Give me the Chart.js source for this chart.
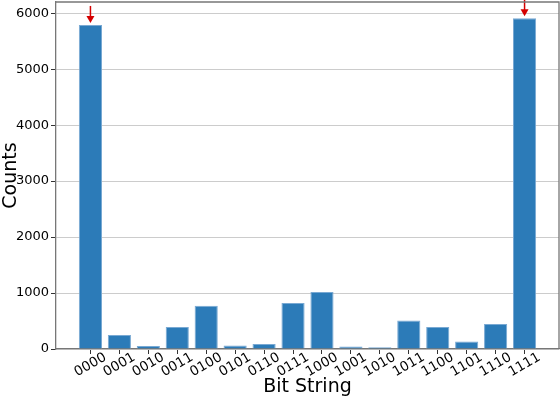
<!DOCTYPE html>
<html>
<head>
<meta charset="utf-8">
<script src="https://cdn.jsdelivr.net/npm/chart.js@4"></script>
<style>
  html, body { margin: 0; padding: 0; background: #fff; }
  #wrap { width: 560px; height: 400px; }
</style>
</head>
<body>
<div id="wrap"><canvas id="c"></canvas></div>
<script>
const bitStrings = ["0000","0001","0010","0011","0100","0101","0110","0111",
                    "1000","1001","1010","1011","1100","1101","1110","1111"];
const counts = [5790, 250, 55, 395, 775, 62, 88, 820,
                1020, 45, 30, 510, 395, 134, 448, 5910];
const yTicks = [0, 1000, 2000, 3000, 4000, 5000, 6000];
const markedBars = ["0000", "1111"];

const FONT = "'DejaVu Sans', sans-serif";

/* labels rotated 30deg, centred on the tick like matplotlib */
const tickLabels = {
  id: "tickLabels",
  afterDraw(chart) {
    const ctx = chart.ctx;
    const xs = chart.scales.x;
    ctx.save();
    ctx.font = "13.5px " + FONT;
    ctx.fillStyle = "#000";
    ctx.textAlign = "center";
    ctx.textBaseline = "middle";
    bitStrings.forEach((lab, i) => {
      const x = xs.getPixelForValue(i);
      ctx.save();
      ctx.translate(x, xs.top + 16);
      ctx.rotate(-Math.PI / 6);
      ctx.fillText(lab, 0, 0);
      ctx.restore();
    });
    ctx.restore();
  }
};

/* red arrows above the marked bars */
const arrows = {
  id: "arrows",
  afterDatasetsDraw(chart) {
    const ctx = chart.ctx;
    const xs = chart.scales.x, ys = chart.scales.y;
    ctx.save();
    ctx.strokeStyle = "#d40000";
    ctx.fillStyle = "#d40000";
    ctx.lineWidth = 1.5;
    markedBars.forEach(b => {
      const i = bitStrings.indexOf(b);
      const x = xs.getPixelForValue(i);
      const yTop = ys.getPixelForValue(counts[i]) - 2;
      ctx.beginPath();
      ctx.moveTo(x, yTop - 17);
      ctx.lineTo(x, yTop - 5);
      ctx.stroke();
      ctx.beginPath();
      ctx.moveTo(x - 4, yTop - 7);
      ctx.lineTo(x + 4, yTop - 7);
      ctx.lineTo(x, yTop);
      ctx.closePath();
      ctx.fill();
    });
    ctx.restore();
  }
};

new Chart(document.getElementById("c"), {
  type: "bar",
  data: {
    datasets: [{
      data: counts.map((v, i) => ({ x: i, y: v })),
      backgroundColor: "#2c7bb8",
      borderColor: "#79a9d3",
      borderWidth: 1,
      barPercentage: 0.8,
      categoryPercentage: 1.0
    }]
  },
  options: {
    responsive: true,
    maintainAspectRatio: false,
    animation: false,
    layout: { padding: { top: 2, right: 1, left: 0, bottom: 0 } },
    plugins: {
      legend: { display: false },
      tooltip: { enabled: false }
    },
    scales: {
      x: {
        type: "linear",
        offset: false,
        min: -1.19,
        max: 16.19,
        afterBuildTicks: s => { s.ticks = bitStrings.map((_, i) => ({ value: i })); },
        afterFit: s => { s.height = 51; s.paddingLeft = 0; s.paddingRight = 0; },
        ticks: { display: false },
        grid: {
          offset: false,
          drawOnChartArea: false,
          drawTicks: true,
          tickLength: 5,
          color: "#333"
        },
        border: { color: "#777", width: 1.3 },
        title: {
          display: true,
          text: "Bit String",
          font: { family: FONT, size: 19 },
          color: "#000",
          padding: { top: 0, bottom: 2 }
        }
      },
      y: {
        min: 0,
        max: 6200,
        afterBuildTicks: s => { s.ticks = yTicks.map(v => ({ value: v })); },
        afterFit: s => { s.width = 56; s.paddingTop = 0; s.paddingBottom = 0; },
        ticks: {
          font: { family: FONT, size: 13 },
          color: "#000",
          padding: 2,
          callback: v => String(v)
        },
        grid: {
          color: "#cccccc",
          lineWidth: 1,
          tickLength: 5,
          tickColor: "#333"
        },
        border: { color: "#777", width: 1.3 },
        title: {
          display: true,
          text: "Counts",
          font: { family: FONT, size: 19 },
          color: "#000",
          padding: { top: 0, bottom: 0 }
        }
      }
    }
  },
  plugins: [tickLabels, arrows, {
    id: "frame",
    afterDraw(chart) {
      const a = chart.chartArea, ctx = chart.ctx;
      ctx.save();
      ctx.strokeStyle = "#777";
      ctx.lineWidth = 1.3;
      ctx.beginPath();
      ctx.moveTo(a.left, a.top);
      ctx.lineTo(a.right, a.top);
      ctx.lineTo(a.right, a.bottom);
      ctx.stroke();
      ctx.restore();
    }
  }]
});
</script>
</body>
</html>
